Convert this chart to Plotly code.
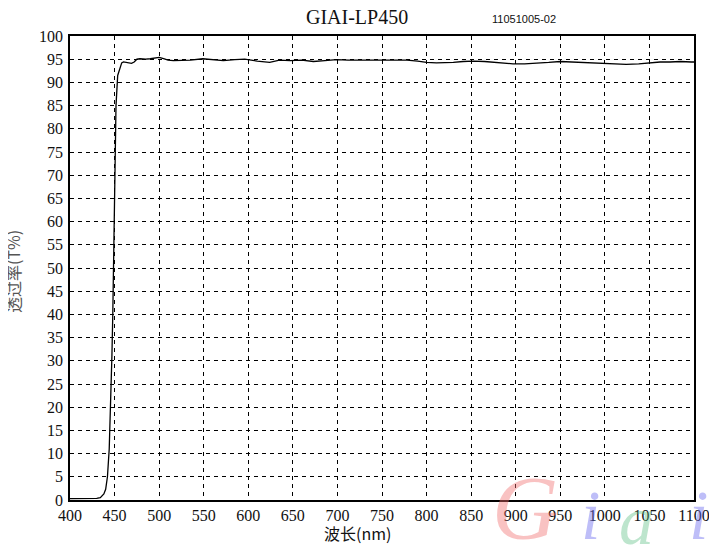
import plotly.graph_objects as go

wavelength = [400, 410, 420, 430, 434, 436, 438, 440, 442, 444, 445.6, 447, 448, 449, 449.7, 450.5,
              451.6, 453.5, 456, 458, 460, 465, 469, 472, 475, 478.5, 485, 490, 495, 500, 505, 510,
              516, 525, 535, 549, 560, 572, 585, 596, 610, 624, 635, 647, 660, 673, 686, 699, 712,
              725, 737, 748, 763, 778, 790, 800, 811, 820, 830, 841, 852, 865, 880, 897, 910, 923,
              937, 950, 961, 972, 985, 998, 1012, 1024, 1038, 1051, 1062, 1073, 1085, 1097, 1100]
transmittance = [0.3, 0.3, 0.3, 0.35, 0.5, 0.8, 1.3, 2.3, 5, 11, 20, 31, 40, 52, 67, 78,
                 85, 91.5, 93.2, 94.2, 94.4, 94.3, 94.1, 94.4, 95.0, 95.1, 95.0, 95.1, 95.2, 95.4, 95.1, 94.8,
                 94.7, 94.7, 94.8, 95.1, 94.9, 94.7, 94.9, 95.0, 94.6, 94.3, 94.8, 94.7, 94.8, 94.5, 94.7, 94.9, 94.8,
                 94.8, 94.9, 94.9, 94.9, 94.8, 94.6, 94.3, 94.2, 94.2, 94.3, 94.5, 94.6, 94.5, 94.2, 94.0, 94.0, 94.1,
                 94.3, 94.5, 94.4, 94.3, 94.3, 94.2, 94.0, 93.9, 94.0, 94.3, 94.4, 94.4, 94.5, 94.4, 94.4]

x_ticks = list(range(400, 1101, 50))
y_ticks = list(range(0, 101, 5))

title_text = "GIAI-LP450"
code_text = "11051005-02"
x_title = "波长(nm)"
y_title = "透过率(T%)"

fig = go.Figure()
fig.add_trace(go.Scatter(x=wavelength, y=transmittance, mode="lines",
                         line=dict(color="black", width=1.3), showlegend=False, hoverinfo="skip"))

serif = "Liberation Serif, Times New Roman, serif"
axis_common = dict(showline=True, mirror=True, linecolor="black", linewidth=1.6,
                   showgrid=True, gridcolor="black", gridwidth=1, griddash="4px,4px",
                   zeroline=False, ticks="", tickfont=dict(family=serif, size=16, color="#111"))

# page has an 8px body margin; plot area in page pixels: x 70..694, y 36..500
fig.update_layout(
    width=709, height=537,
    margin=dict(l=62, r=23, t=28, b=45, autoexpand=False),
    paper_bgcolor="white", plot_bgcolor="white",
    xaxis=dict(range=[400, 1100], tickvals=x_ticks, ticktext=[str(v) for v in x_ticks], **axis_common),
    yaxis=dict(range=[0, 100], tickvals=y_ticks, ticktext=[str(v) for v in y_ticks], ticklabelstandoff=2, **axis_common),
)

annotations = [
    dict(text=title_text, x=357, y=17, font=dict(family=serif, size=20, color="#111")),
    dict(text=code_text, x=524, y=19, font=dict(family="Liberation Sans, Arial, sans-serif", size=11, color="#111")),
    dict(text=x_title, x=357, y=533, font=dict(family="Noto Sans CJK SC, sans-serif", size=16, color="#111")),
    dict(text=y_title, x=13, y=272, textangle=-90, font=dict(family="Noto Sans CJK SC, sans-serif", size=16, color="#555")),
]
# watermark letters
wm = [("G", 525, 508, "rgba(240,110,110,0.42)", 92),
      ("i", 590, 515, "rgba(110,110,240,0.45)", 70),
      ("a", 636, 520, "rgba(90,190,130,0.40)", 70),
      ("i", 698, 515, "rgba(110,110,240,0.45)", 70)]
for ch, x, y, c, s in wm:
    annotations.append(dict(text="<i>" + ch + "</i>", x=x, y=y,
                            font=dict(family=serif, size=s, color=c)))

for a in annotations:
    a.update(xref="paper", yref="paper", showarrow=False, xanchor="center", yanchor="middle")
    a["x"] = (a["x"] - 70) / (694 - 70)
    a["y"] = (500 - a["y"]) / (500 - 36)

fig.update_layout(annotations=annotations)
fig.write_html("out.html")
